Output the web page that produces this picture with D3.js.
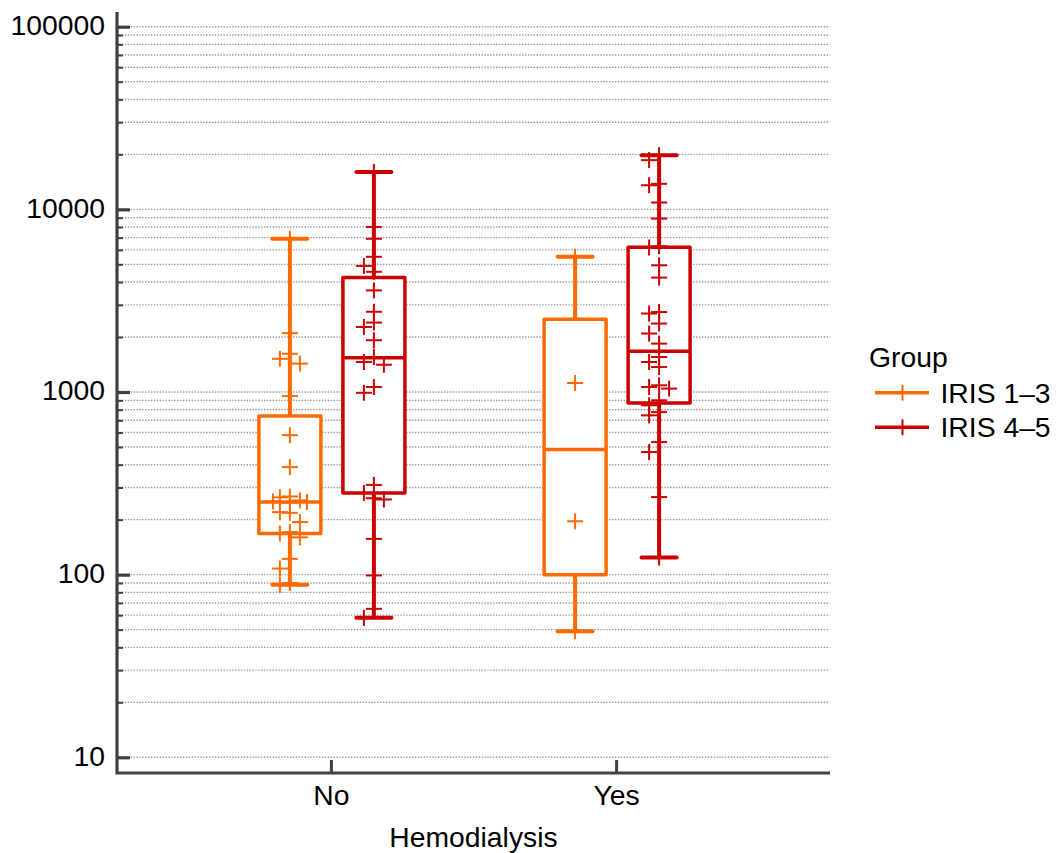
<!DOCTYPE html>
<html>
<head>
<meta charset="utf-8">
<script src="https://cdn.jsdelivr.net/npm/d3@7"></script>
<style>
  html, body { margin: 0; padding: 0; background: #fff; }
  svg { display: block; font-family: "Liberation Sans", Arial, sans-serif; }
</style>
</head>
<body>
<svg id="chart" width="1062" height="853"></svg>
<script>
// Hemodialysis categories and IRIS groups
const categories = ["No", "Yes"];
const groups = ["IRIS 1–3", "IRIS 4–5"];
const groupColors = ["#ff6a00", "#cc0000"];

// Box summaries: [min, Q1, median, Q3, max]
const iris13NoBox  = [88, 168, 250, 740, 6900];
const iris45NoBox  = [58, 280, 1540, 4230, 16000];
const iris13YesBox = [49, 100, 484, 2500, 5500];
const iris45YesBox = [124, 870, 1670, 6200, 19800];

// Individual observations
const iris13NoPoints = [6900, 2100, 1620, 1520, 1430, 950, 580, 388, 268, 265, 255, 252, 250, 248,
  220, 218, 194, 171, 168, 160, 122, 108, 90, 88];
const iris45NoPoints = [16000, 8000, 6900, 5500, 4900, 4550, 3600, 2750, 2400, 2270, 1920, 1555,
  1460, 1410, 1065, 990, 310, 280, 262, 258, 157, 99, 65, 58];
const iris13YesPoints = [5500, 1120, 196, 49];
const iris45YesPoints = [19800, 18600, 13800, 13550, 10900, 8900, 6280, 6180, 4940, 4230, 2740,
  2690, 2370, 2090, 1840, 1555, 1460, 1370, 1088, 1065, 1044, 901, 846, 776, 745, 532, 469, 266, 124];

// Y-axis decade ticks
const yTickValues = [10, 100, 1000, 10000, 100000];
const yTickLabels = ["10", "100", "1000", "10000", "100000"];

const xTitle = "Hemodialysis";
const legendTitle = "Group";

const series = [
  { cat: "No",  group: 0, box: iris13NoBox,  points: iris13NoPoints },
  { cat: "No",  group: 1, box: iris45NoBox,  points: iris45NoPoints },
  { cat: "Yes", group: 0, box: iris13YesBox, points: iris13YesPoints },
  { cat: "Yes", group: 1, box: iris45YesBox, points: iris45YesPoints }
];

// Layout
const plotLeft = 117, plotRight = 830, plotBottom = 773, plotTop = 12;
const axisColor = "#404040";
const fontSize = 28.3;
const svg = d3.select("#chart");

const x = d3.scalePoint().domain(categories).range([plotLeft, plotRight]).padding(0.75);
const dodge = d3.scaleBand().domain(d3.range(groups.length)).range([-83, 85]);
const y = d3.scaleLog().domain([10, 100000]).range([757.3, 26.7]);

// Minor tick values (2..9 per decade)
const minorValues = [];
for (let d = 10; d < 100000; d *= 10) for (let k = 2; k <= 9; k++) minorValues.push(d * k);

// Dotted grid
const grid = svg.append("g").attr("transform", `translate(${plotLeft},0)`);
grid.selectAll("line").data(yTickValues.concat(minorValues)).join("line")
  .attr("x1", 2).attr("x2", plotRight - plotLeft)
  .attr("y1", d => y(d)).attr("y2", d => y(d))
  .attr("stroke", "#999").attr("stroke-width", 1.4).attr("stroke-dasharray", "1.4,1.5");

// Boxes and whiskers
const boxW = 62, capW = 35;
const plot = svg.append("g");
series.forEach(s => {
  const cx = x(s.cat) + dodge(s.group) + dodge.bandwidth() / 2;
  const c = groupColors[s.group];
  const [mn, q1, md, q3, mx] = s.box;
  const g = plot.append("g");
  g.append("line").attr("x1", cx).attr("x2", cx).attr("y1", y(q3)).attr("y2", y(mx))
    .attr("stroke", c).attr("stroke-width", 4);
  g.append("line").attr("x1", cx).attr("x2", cx).attr("y1", y(q1)).attr("y2", y(mn))
    .attr("stroke", c).attr("stroke-width", 4);
  [mn, mx].forEach(v => g.append("line")
    .attr("x1", cx - capW / 2).attr("x2", cx + capW / 2).attr("y1", y(v)).attr("y2", y(v))
    .attr("stroke", c).attr("stroke-width", 4).attr("stroke-linecap", "round"));
  g.append("rect").attr("x", cx - boxW / 2).attr("width", boxW)
    .attr("y", y(q3)).attr("height", y(q1) - y(q3))
    .attr("fill", "#fff").attr("stroke", c).attr("stroke-width", 3.5)
    .attr("stroke-linejoin", "round");
  g.append("line").attr("x1", cx - boxW / 2).attr("x2", cx + boxW / 2)
    .attr("y1", y(md)).attr("y2", y(md)).attr("stroke", c).attr("stroke-width", 3.5);
});

// Points as "+" markers, spread sideways when they crowd together
const crossSize = 16;
function spread(values) {
  const placed = [];
  const offsets = [0, -10, 10, -17, 17, -5, 5, -22, 22];
  values.slice().sort((a, b) => b - a).forEach(v => {
    const py = y(v);
    for (const o of offsets) {
      const clash = placed.some(p => Math.abs(p.py - py) < 10 && Math.abs(p.o - o) < 7);
      if (!clash) { placed.push({ v, py, o }); return; }
    }
    placed.push({ v, py, o: 0 });
  });
  return placed;
}
series.forEach(s => {
  const cx = x(s.cat) + dodge(s.group) + dodge.bandwidth() / 2;
  const c = groupColors[s.group];
  const g = plot.append("g").attr("stroke", c).attr("stroke-width", 2);
  spread(s.points).forEach(p => {
    const px = cx + p.o;
    g.append("line").attr("x1", px - crossSize / 2).attr("x2", px + crossSize / 2)
      .attr("y1", p.py).attr("y2", p.py);
    g.append("line").attr("x1", px).attr("x2", px)
      .attr("y1", p.py - crossSize / 2).attr("y2", p.py + crossSize / 2);
  });
});

// Y axis: major ticks with labels, minor ticks without
const yAxis = svg.append("g").attr("transform", `translate(${plotLeft},0)`)
  .call(d3.axisLeft(y).tickValues(yTickValues).tickSize(-13).tickPadding(12)
    .tickFormat((d, i) => yTickLabels[i]));
yAxis.select(".domain").remove();
yAxis.selectAll(".tick line").attr("stroke", axisColor).attr("stroke-width", 3.2);
yAxis.selectAll(".tick text").attr("font-size", fontSize).attr("fill", "#000")
  .attr("font-family", "Liberation Sans, Arial, sans-serif").attr("dy", "0.28em");

const yMinor = svg.append("g").attr("transform", `translate(${plotLeft},0)`)
  .call(d3.axisLeft(y).tickValues(minorValues).tickSize(-6).tickFormat(""));
yMinor.select(".domain").remove();
yMinor.selectAll(".tick line").attr("stroke", axisColor).attr("stroke-width", 2);

// X axis
const xAxis = svg.append("g").attr("transform", `translate(0,${plotBottom})`)
  .call(d3.axisBottom(x).tickSize(-13).tickPadding(12));
xAxis.select(".domain").remove();
xAxis.selectAll(".tick line").attr("stroke", axisColor).attr("stroke-width", 3);
xAxis.selectAll(".tick text").attr("font-size", fontSize).attr("fill", "#000")
  .attr("font-family", "Liberation Sans, Arial, sans-serif");

// Axis lines
svg.append("path")
  .attr("d", `M${plotLeft},${plotTop}V${plotBottom}H${plotRight}`)
  .attr("fill", "none").attr("stroke", axisColor).attr("stroke-width", 3.2);

// Axis title
svg.append("text").attr("x", (plotLeft + plotRight) / 2).attr("y", 847)
  .attr("text-anchor", "middle").attr("font-size", fontSize).text(xTitle);

// Legend
const legend = svg.append("g");
legend.append("text").attr("x", 869).attr("y", 366.5).attr("font-size", fontSize).text(legendTitle);
groups.forEach((name, i) => {
  const ly = 392.7 + i * 34.6;
  legend.append("line").attr("x1", 875).attr("x2", 929).attr("y1", ly).attr("y2", ly)
    .attr("stroke", groupColors[i]).attr("stroke-width", 3.5);
  legend.append("line").attr("x1", 902.5).attr("x2", 902.5)
    .attr("y1", ly - crossSize / 2).attr("y2", ly + crossSize / 2)
    .attr("stroke", groupColors[i]).attr("stroke-width", 2);
  legend.append("text").attr("x", 940.5).attr("y", ly).attr("dy", "0.355em")
    .attr("font-size", fontSize).text(name);
});
</script>
</body>
</html>
